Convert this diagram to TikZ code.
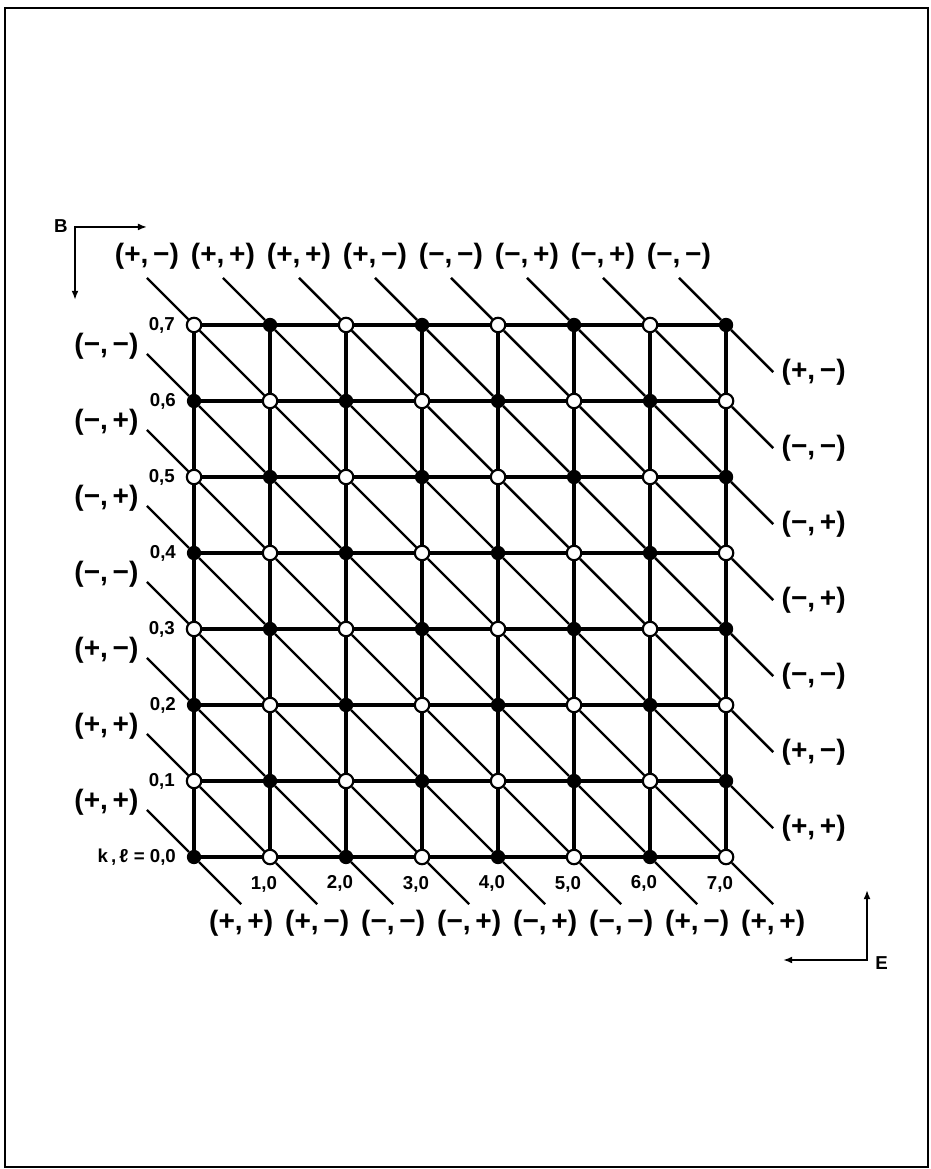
\documentclass[tikz,border=0pt]{standalone}
\usepackage{fontspec}
\setmainfont{Liberation Sans}
\usetikzlibrary{positioning,arrows.meta}

\newcommand{\signpair}[2]{(#1,\,#2)}

\tikzset{
  site/.style={circle,draw,line width=0.8pt,fill=white,inner sep=0pt,minimum size=1.9mm},
  fullsite/.style={site,fill=black,minimum size=1.6mm},
  lattice/.style={line width=1.3pt},
  diag/.style={line width=0.9pt},
  sign/.style={font=\bfseries\fontsize{10.5}{12}\selectfont,inner sep=1pt},
  idx/.style={font=\bfseries\fontsize{7}{8}\selectfont,inner sep=0.5pt},
}

\begin{document}
\begin{tikzpicture}[>={Latex[length=3.4pt,width=2.6pt]}]
\useasboundingbox (-2.553,-4.105) rectangle (9.684,11.276);
\draw[line width=0.9pt] (-2.487,-4.079) rectangle (9.658,11.171);

%%%%%%%%%%%%%%%% sites, filled when k+l is even
\foreach \i in {0,...,7}
  \foreach \j in {0,...,7}{
    \pgfmathtruncatemacro{\parity}{mod(\i+\j,2)}
    \ifnum\parity=0
      \node[fullsite] (n-\i-\j) at (\i,\j) {};
    \else
      \node[site] (n-\i-\j) at (\i,\j) {};
    \fi
  }

%%%%%%%%%%%%%%%% square lattice and diagonals
\foreach \ia in {0,...,6}
  \foreach \c in {0,...,7}{
    \pgfmathtruncatemacro{\ib}{\ia+1}
    \draw[lattice] (n-\ia-\c) -- (n-\ib-\c);
    \draw[lattice] (n-\c-\ia) -- (n-\c-\ib);
    \ifnum\c>0
      \pgfmathtruncatemacro{\cb}{\c-1}
      \draw[diag] (n-\ia-\c) -- (n-\ib-\cb);
    \fi
  }

\foreach \i/\p/\q in {0/+/−,1/+/+,2/+/+,3/+/−,4/−/−,5/−/+,6/−/+,7/−/−}{
  \coordinate (top-\i) at (\i-0.62,7.62);
  \draw[diag] (top-\i) -- (n-\i-7);
  \node[sign,anchor=south] (st-\i) at ([yshift=2pt]top-\i) {\signpair{\p}{\q}};
}
\foreach \k/\p/\q in {6/−/−,5/−/+,4/−/+,3/−/−,2/+/−,1/+/+,0/+/+}{
  \coordinate (lft-\k) at (-0.62,\k+0.62);
  \draw[diag] (lft-\k) -- (n-0-\k);
  \node[sign,anchor=east] (sl-\k) at ([xshift=-2pt,yshift=3pt]lft-\k) {\signpair{\p}{\q}};
}
\foreach \j/\p/\q in {7/+/−,6/−/−,5/−/+,4/−/+,3/−/−,2/+/−,1/+/+}{
  \coordinate (rgt-\j) at (7.62,\j-0.62);
  \draw[diag] (n-7-\j) -- (rgt-\j);
  \node[sign,anchor=west] (sr-\j) at ([xshift=2pt]rgt-\j) {\signpair{\p}{\q}};
}
\foreach \i/\p/\q in {0/+/+,1/+/−,2/−/−,3/−/+,4/−/+,5/−/−,6/+/−,7/+/+}{
  \coordinate (bot-\i) at (\i+0.62,-0.62);
  \draw[diag] (n-\i-0) -- (bot-\i);
  \node[sign,anchor=north] (sb-\i) at ([yshift=-1pt]bot-\i) {\signpair{\p}{\q}};
}

%%%%%%%%%%%%%%%% site indices
\foreach \j in {1,...,7}
  \node[idx,left=0.12cm of n-0-\j] (ly-\j) {0,\j};
\node[idx,left=0.12cm of n-0-0] (ly-0) {k\,,\,ℓ = 0,0};
\foreach \i in {1,...,7}
  \node[idx,below=0.12cm of n-\i-0,xshift=-0.08cm] (lx-\i) {\i,0};

%%%%%%%%%%%%%%%% field directions
\coordinate (B-down) at (-1.566,7.33);
\coordinate (B-right) at (-0.618,8.29);
\draw[<->,line width=0.8pt] (B-down) |- (B-right);
\node[idx,anchor=east] (B) at (-1.64,8.30) {B};
\coordinate (E-left) at (7.75,-1.355);
\coordinate (E-up) at (8.855,-0.434);
\draw[<->,line width=0.8pt] (E-left) -| (E-up);
\node[idx,anchor=west] (E) at (8.94,-1.39) {E};
\end{tikzpicture}
\end{document}
